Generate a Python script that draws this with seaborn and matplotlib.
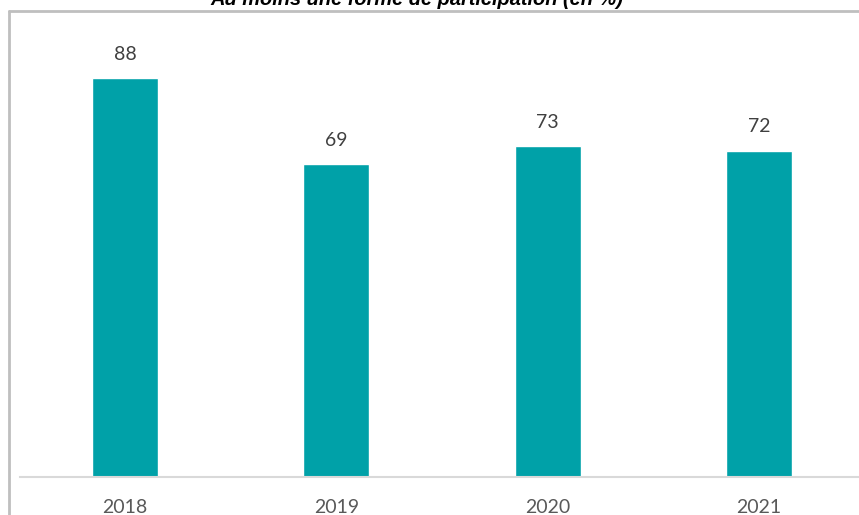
import matplotlib
matplotlib.use("Agg")
import matplotlib.pyplot as plt
import seaborn as sns
import pandas as pd
from matplotlib.lines import Line2D

# Données
annees = ["2018", "2019", "2020", "2021"]
valeurs = [88, 69, 73, 72]
titre = "Au moins une forme de participation (en %)"

df = pd.DataFrame({"annee": annees, "valeur": valeurs})

sns.set_style("white")
plt.rcParams["font.family"] = ["Lato", "DejaVu Sans"]

W, H = 859, 515
fig = plt.figure(figsize=(W / 100, H / 100), dpi=100)
ax = fig.add_axes([20 / W, 1 - 477 / H, (858 - 20) / W, (477 - 30) / H])

sns.barplot(data=df, x="annee", y="valeur", color="#00A1A8", width=0.312,
            saturation=1, ax=ax)

for i, v in enumerate(valeurs):
    ax.annotate(f"{v}", (i, v), xytext=(0, 17.3), textcoords="offset points",
                ha="center", va="center", fontsize=14, color="#404040")

ax.set_xlim(-0.497, 3.468)
ax.set_ylim(0, 98.6)
ax.set_xlabel("")
ax.set_ylabel("")
ax.set_yticks([])
ax.tick_params(axis="x", length=0, pad=16, labelsize=14, labelcolor="#595959")
for s in ["top", "right", "left"]:
    ax.spines[s].set_visible(False)
ax.spines["bottom"].set_color("#D9D9D9")
ax.spines["bottom"].set_linewidth(1.5)

# cadre gris
fig.add_artist(Line2D([8.5 / W, 8.5 / W], [0, 1 - 10.5 / H], color="#BFBFBF", lw=2))
fig.add_artist(Line2D([8.5 / W, 1], [1 - 10.5 / H, 1 - 10.5 / H], color="#BFBFBF", lw=2))

fig.text(417 / W, 1 - 5 / H, titre, ha="center", va="baseline",
         fontsize=14.4, fontweight="bold", fontstyle="italic",
         family=["Liberation Sans", "DejaVu Sans"], color="black")

fig.savefig("out.png", dpi=100)
